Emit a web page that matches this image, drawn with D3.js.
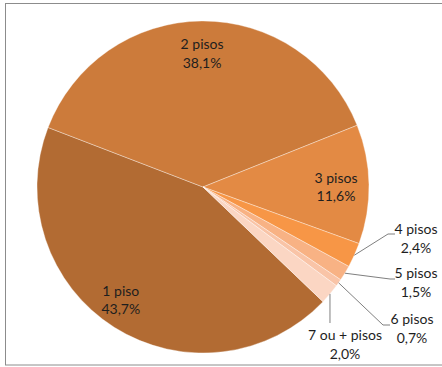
<!DOCTYPE html>
<html><head><meta charset="utf-8">
<script src="https://cdn.jsdelivr.net/npm/d3@7"></script>
<style>html,body{margin:0;padding:0;background:#fff;}svg{display:block;}</style>
</head><body>
<svg id="chart" width="442" height="367"></svg>
<script>
const categories = ["1 piso","2 pisos","3 pisos","4 pisos","5 pisos","6 pisos","7 ou + pisos"];
const values = [43.7, 38.1, 11.6, 2.4, 1.5, 0.7, 2.0];
const valueLabels = ["43,7%","38,1%","11,6%","2,4%","1,5%","0,7%","2,0%"];
const colors = ["#B26B33","#CC7B3B","#E38A44","#F79646","#F8B284","#F9C4A7","#FBD6C3"];

const svg = d3.select("#chart");
const cx = 203, cy = 187, R = 166;
const startAngle = 133.7 * Math.PI / 180;

// chart border
svg.append("rect").attr("x", 5.5).attr("y", 3.5).attr("width", 445).attr("height", 361.5)
  .attr("fill", "none").attr("stroke", "#8c8c8c").attr("stroke-width", 1);

const pie = d3.pie().sort(null).value(d => d)
  .startAngle(startAngle).endAngle(startAngle + 2 * Math.PI);
const arcs = pie(values);
const arc = d3.arc().innerRadius(0).outerRadius(R);

const g = svg.append("g").attr("transform", `translate(${cx},${cy})`);
g.selectAll("path.slice").data(arcs).join("path")
  .attr("class", "slice")
  .attr("d", arc)
  .attr("fill", (d, i) => colors[i])
  .attr("stroke", "rgba(255,255,255,0.45)")
  .attr("stroke-width", 0.8);

const font = "Lato, 'Open Sans', sans-serif";
const fs = 14;
const lh = 18.5;

// inside labels: placed along the mid angle at a label radius
const inside = [0, 1, 2];
const labelR = [137, 134, 133];
const labelAngleAdj = [4.5, 0, 0]; // degrees
const labelDy = [-1, -4, -2];
inside.forEach((i, k) => {
  const a = (arcs[i].startAngle + arcs[i].endAngle) / 2 + labelAngleAdj[k] * Math.PI / 180;
  const x = Math.sin(a) * labelR[k], y = -Math.cos(a) * labelR[k];
  const t = g.append("text").attr("text-anchor", "middle")
    .attr("font-family", font).attr("font-size", fs).attr("fill", "#1e1e1e");
  t.append("tspan").attr("x", x).attr("y", y + labelDy[k]).text(categories[i]);
  t.append("tspan").attr("x", x).attr("y", y + labelDy[k] + lh).text(valueLabels[i]);
});

// outside labels with leader lines (layout positions relative to center)
const outside = [
  {i: 3, bend: [185, 47], end: [192, 47], tx: 213, ty: 47},
  {i: 4, bend: [187, 92], end: [192, 92], tx: 213, ty: 91},
  {i: 5, bend: [180, 138], end: [187, 138], tx: 209, ty: 137},
  {i: 6, bend: null, end: [127, 136], tx: 142, ty: 153}
];
outside.forEach(o => {
  const d = arcs[o.i];
  const a = (d.startAngle + d.endAngle) / 2;
  const p0 = [Math.sin(a) * R, -Math.cos(a) * R];
  const pts = o.bend ? [p0, o.bend, o.end] : [p0, [p0[0], o.end[1]]];
  g.append("path").attr("d", d3.line()(pts))
    .attr("fill", "none").attr("stroke", "#7f7f7f").attr("stroke-width", 1);
  const t = g.append("text").attr("text-anchor", "middle")
    .attr("font-family", font).attr("font-size", fs).attr("fill", "#1e1e1e");
  t.append("tspan").attr("x", o.tx).attr("y", o.ty).text(categories[o.i]);
  t.append("tspan").attr("x", o.tx).attr("y", o.ty + lh).text(valueLabels[o.i]);
});
</script>
</body></html>
